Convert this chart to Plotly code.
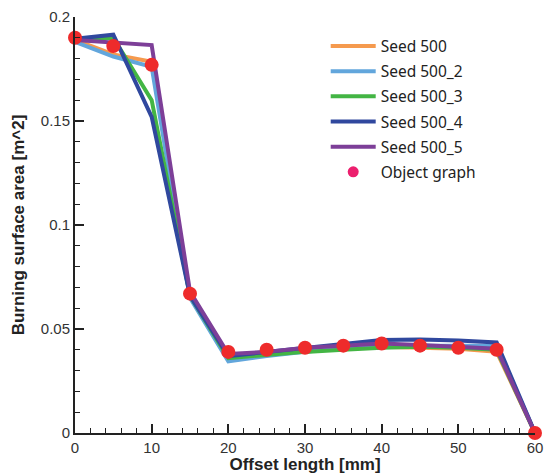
import plotly.graph_objects as go

offset_mm = [0, 5, 10, 15, 20, 25, 30, 35, 40, 45, 50, 55, 60]
seed_500 = [0.189, 0.182, 0.1785, 0.066, 0.036, 0.038, 0.0395, 0.041, 0.0415, 0.041, 0.0405, 0.039, 0.0]
seed_500_2 = [0.188, 0.181, 0.176, 0.065, 0.0345, 0.037, 0.039, 0.041, 0.042, 0.042, 0.042, 0.042, 0.0]
seed_500_3 = [0.189, 0.190, 0.160, 0.066, 0.036, 0.0375, 0.039, 0.040, 0.041, 0.0415, 0.041, 0.040, 0.0]
seed_500_4 = [0.1895, 0.1915, 0.152, 0.066, 0.037, 0.039, 0.041, 0.043, 0.0447, 0.045, 0.0445, 0.0435, 0.0]
seed_500_5 = [0.189, 0.1877, 0.1865, 0.068, 0.038, 0.039, 0.041, 0.042, 0.043, 0.0423, 0.0415, 0.0405, 0.0]
object_graph = [0.190, 0.186, 0.177, 0.067, 0.039, 0.040, 0.041, 0.042, 0.043, 0.042, 0.041, 0.040, 0.0]

series = [
    ("Seed 500", seed_500, "#f59a4e"),
    ("Seed 500_2", seed_500_2, "#62a6dc"),
    ("Seed 500_3", seed_500_3, "#43b544"),
    ("Seed 500_4", seed_500_4, "#30489e"),
    ("Seed 500_5", seed_500_5, "#7d3f98"),
]

fig = go.Figure()
for i, (name, vals, color) in enumerate(series):
    fig.add_trace(go.Scatter(x=offset_mm, y=vals, mode="lines", name=name,
                             legendgroup=f"g{i}",
                             line=dict(color=color, width=4), cliponaxis=False))

fig.add_trace(go.Scatter(x=offset_mm, y=object_graph, mode="markers", name="Object graph",
                         marker=dict(color="#ee2b2b", size=14), showlegend=False,
                         legendgroup="obj", cliponaxis=False))
fig.add_trace(go.Scatter(x=[None], y=[None], mode="markers", name="Object graph",
                         legendgroup="obj",
                         marker=dict(color="#ec1f6e", size=11)))

axis_common = dict(
    showline=True, linecolor="#222", linewidth=2, mirror=False,
    ticks="inside", ticklen=9, tickwidth=2, tickcolor="#222",
    showgrid=False, zeroline=False, automargin=False,
    tickfont=dict(family="Liberation Sans, Arial", size=15, color="#333"),
)

fig.update_xaxes(range=[0, 60], dtick=10,
                 minor=dict(ticks="inside", ticklen=5, tickwidth=1, tickcolor="#222", dtick=2),
                 title=dict(text="Offset length [mm]", standoff=0,
                            font=dict(family="Liberation Sans, Arial", size=17, color="#222",
                                      weight="bold")),
                 **axis_common)
fig.update_yaxes(range=[0, 0.2], dtick=0.05,
                 minor=dict(ticks="inside", ticklen=5, tickwidth=1, tickcolor="#222", dtick=0.01),
                 title=dict(text="Burning surface area [m^2]", standoff=12,
                            font=dict(family="Liberation Sans, Arial", size=17, color="#222",
                                      weight="bold")),
                 **axis_common)

fig.update_layout(
    width=545, height=474,
    margin=dict(l=75, r=10, t=17, b=41),
    paper_bgcolor="white", plot_bgcolor="white",
    showlegend=True,
    legend=dict(x=0.545, y=0.97, xanchor="left", yanchor="top",
                bgcolor="rgba(0,0,0,0)", itemwidth=45,
                traceorder="grouped", tracegroupgap=2,
                font=dict(family="Noto Sans", size=15.5, color="#222")),
)

fig.write_html("out.html")
